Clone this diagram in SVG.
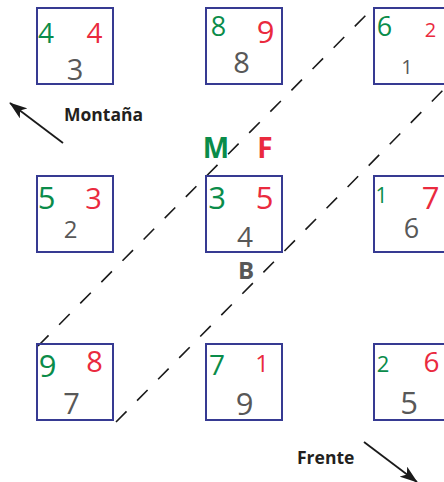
<svg xmlns="http://www.w3.org/2000/svg" width="444" height="482" viewBox="0 0 444 482">
<style>
.box{fill:none;stroke:#363a92;stroke-width:2}
.d{font-family:"Open Sans","Noto Sans",sans-serif;text-anchor:middle}
.g{fill:#0a8c4a}
.r{fill:#ea2a3e}
.k{fill:#585858}
.lbl{font-family:"Open Sans","Noto Sans",sans-serif;font-weight:bold;font-size:17.5px;fill:#231f20}
.dash{stroke:#1a1a1a;stroke-width:1.6;stroke-dasharray:15 15;fill:none}
.arr{stroke:#1a1a1a;stroke-width:1.8;fill:none}
</style>
<defs>
<marker id="ah" viewBox="0 0 10 10" refX="9" refY="5" markerWidth="9" markerHeight="9" markerUnits="userSpaceOnUse" orient="auto">
<path d="M0,0 L10,5 L0,10 L2.5,5 z" fill="#1a1a1a"/>
</marker>
<marker id="ah2" viewBox="0 0 20 14" refX="19" refY="7" markerWidth="18" markerHeight="12.6" markerUnits="userSpaceOnUse" orient="auto">
<path d="M0,0 L20,7 L0,14 L5,7 z" fill="#1a1a1a"/>
</marker>
</defs>
<g id="connectors">
<line class="dash" x1="38" y1="346" x2="374" y2="7"/>
<line class="dash" x1="116" y1="422" x2="452" y2="81"/>
<line class="arr" x1="63" y1="143" x2="10" y2="103" marker-end="url(#ah2)"/>
<line class="arr" x1="364" y1="442" x2="417" y2="482" marker-end="url(#ah2)"/>
</g>
<g id="nodeA">
<rect class="box" x="37" y="8" width="76" height="76"/>
<text class="d g" x="46" y="43" font-size="28">4</text>
<text class="d r" x="94.5" y="43" font-size="28">4</text>
<text class="d k" x="75" y="80" font-size="29">3</text>
</g>
<g id="nodeB">
<rect class="box" x="206" y="8" width="76" height="76"/>
<text class="d g" x="218.5" y="36" font-size="27">8</text>
<text class="d r" x="265.5" y="43" font-size="31">9</text>
<text class="d k" x="241.5" y="73" font-size="29">8</text>
</g>
<g id="nodeC">
<rect class="box" x="374" y="8" width="76" height="76"/>
<text class="d g" x="384.5" y="36" font-size="27">6</text>
<text class="d r" x="430.5" y="37" font-size="20">2</text>
<text class="d k" x="407" y="74" font-size="20">1</text>
</g>
<g id="nodeD">
<rect class="box" x="37" y="176" width="76" height="76"/>
<text class="d g" x="46.5" y="209" font-size="31">5</text>
<text class="d r" x="93.5" y="209" font-size="29">3</text>
<text class="d k" x="70.5" y="238" font-size="24">2</text>
</g>
<g id="nodeE">
<rect class="box" x="206" y="176" width="76" height="76"/>
<text class="d g" x="217" y="209" font-size="31">3</text>
<text class="d r" x="264.5" y="209" font-size="31">5</text>
<text class="d k" x="245" y="247" font-size="28">4</text>
</g>
<g id="nodeF">
<rect class="box" x="374" y="176" width="76" height="76"/>
<text class="d g" x="381.5" y="203" font-size="21">1</text>
<text class="d r" x="430.5" y="209" font-size="31">7</text>
<text class="d k" x="411.5" y="238" font-size="27">6</text>
</g>
<g id="nodeG">
<rect class="box" x="37" y="344" width="76" height="76"/>
<text class="d g" x="47.5" y="377" font-size="31">9</text>
<text class="d r" x="94.5" y="372" font-size="29">8</text>
<text class="d k" x="71.5" y="414" font-size="29">7</text>
</g>
<g id="nodeH">
<rect class="box" x="206" y="344" width="76" height="76"/>
<text class="d g" x="217" y="375" font-size="28">7</text>
<text class="d r" x="262" y="372" font-size="24">1</text>
<text class="d k" x="244.5" y="415" font-size="31">9</text>
</g>
<g id="nodeI">
<rect class="box" x="374" y="344" width="76" height="76"/>
<text class="d g" x="383" y="372" font-size="22">2</text>
<text class="d r" x="431.5" y="372" font-size="28">6</text>
<text class="d k" x="409" y="414" font-size="31">5</text>
</g>
<g id="labels">
<text class="lbl" x="64" y="121">Montaña</text>
<text class="lbl" x="297" y="464">Frente</text>
<text class="d g" x="216" y="158" font-size="28" font-weight="bold">M</text>
<text class="d r" x="265" y="158" font-size="28" font-weight="bold">F</text>
<text class="d k" x="246" y="279" font-size="24" font-weight="bold">B</text>
</g>
</svg>
